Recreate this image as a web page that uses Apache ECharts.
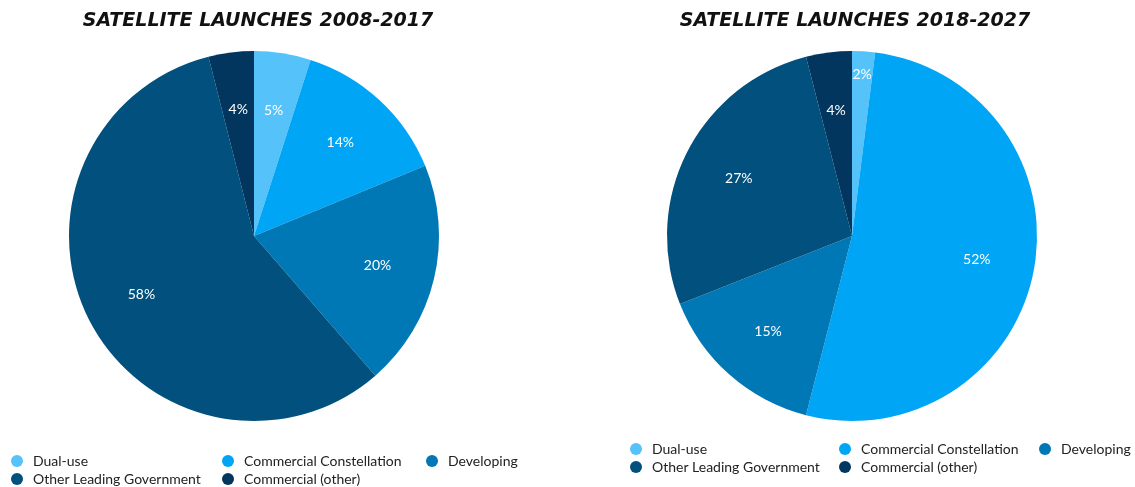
<!DOCTYPE html>
<html>
<head>
<meta charset="utf-8">
<title>Satellite launches by operator type</title>
<script src="https://cdn.jsdelivr.net/npm/echarts@6/dist/echarts.min.js"></script>
<style>
  html, body { margin: 0; padding: 0; background: #ffffff; }
  #chart { width: 1135px; height: 487px; }
</style>
</head>
<body>
<div id="chart"></div>
<script>
// Operator categories, in clockwise order from twelve o'clock
const categories = [
  'Dual-use',
  'Commercial Constellation',
  'Developing',
  'Other Leading Government',
  'Commercial (other)'
];
const colors = ['#55C2FA', '#00A5F5', '#0078B5', '#02507E', '#02365E'];

// Share of launches (percent) per decade
const launches2008 = [5, 14, 20, 58, 4];
const launches2018 = [2, 52, 15, 27, 4];

const titles = ['SATELLITE LAUNCHES 2008-2017', 'SATELLITE LAUNCHES 2018-2027'];

const FONT = 'Lato, "Open Sans", sans-serif';
const TITLE_FONT = '"DejaVu Sans", "Open Sans", sans-serif';
const RADIUS = 185;
const SMALL_SHARE = 3; // slices under this share get their label pushed outward

// legend laid out as a three-column grid
const LEGEND_PER_ROW = 3;

function toItems(values) {
  return categories.map((name, i) => ({ name, value: values[i] }));
}

function pieSeries(values, cx) {
  const center = [cx, 236];
  const base = {
    type: 'pie',
    center,
    startAngle: 90,
    clockwise: true,
    avoidLabelOverlap: false,
    labelLine: { show: false },
    emphasis: { disabled: true }
  };
  const labelStyle = {
    show: true,
    position: 'inside',
    color: '#ffffff',
    fontFamily: FONT,
    fontSize: 14,
    formatter: p => p.value + '%'
  };
  // filled slices
  const slices = Object.assign({}, base, {
    radius: [0, RADIUS],
    label: { show: false },
    itemStyle: { borderWidth: 0 },
    data: toItems(values).map((d, i) => Object.assign(d, { itemStyle: { color: colors[i] } }))
  });
  // transparent ring carrying the regular labels
  const labelsMain = Object.assign({}, base, {
    radius: [63, RADIUS],
    silent: true,
    itemStyle: { color: 'rgba(0,0,0,0)' },
    label: labelStyle,
    data: toItems(values).map(d => Object.assign(d, {
      label: { show: d.value >= SMALL_SHARE }
    }))
  });
  // outer transparent ring for labels of narrow slices
  const labelsOuter = Object.assign({}, base, {
    radius: [133, RADIUS],
    silent: true,
    itemStyle: { color: 'rgba(0,0,0,0)' },
    label: labelStyle,
    data: toItems(values).map(d => Object.assign(d, {
      label: { show: d.value < SMALL_SHARE }
    }))
  });
  return [slices, labelsMain, labelsOuter];
}

// textWidths: text widths of the first two legend columns
function legendFor(left, top, textWidths) {
  return {
    left, top,
    orient: 'horizontal',
    width: 680,
    icon: 'circle',
    itemWidth: 22,
    itemHeight: 12,
    itemGap: 4,
    selectedMode: false,
    data: categories.map((name, i) => {
      const col = i % LEGEND_PER_ROW;
      const item = { name };
      if (col < textWidths.length) {
        item.textStyle = { width: textWidths[col] };
      }
      return item;
    }),
    textStyle: {
      fontFamily: FONT,
      fontSize: 14,
      color: '#222222',
      lineHeight: 12,
      overflow: 'none'
    }
  };
}

const chart = echarts.init(document.getElementById('chart'), null, { renderer: 'canvas' });

const titleStyle = {
  fontFamily: TITLE_FONT, fontSize: 19, fontWeight: 'bold', fontStyle: 'italic', color: '#111111'
};

chart.setOption({
  backgroundColor: '#ffffff',
  animation: false,
  color: colors,
  title: [
    { text: titles[0], left: 253, top: 7, textAlign: 'center', textStyle: titleStyle },
    { text: titles[1], left: 850, top: 7, textAlign: 'center', textStyle: titleStyle }
  ],
  legend: [
    legendFor(6, 449, [185, 178]),
    legendFor(625, 437, [183, 174])
  ],
  series: [].concat(
    pieSeries(launches2008, 254),
    pieSeries(launches2018, 852)
  )
});
</script>
</body>
</html>
